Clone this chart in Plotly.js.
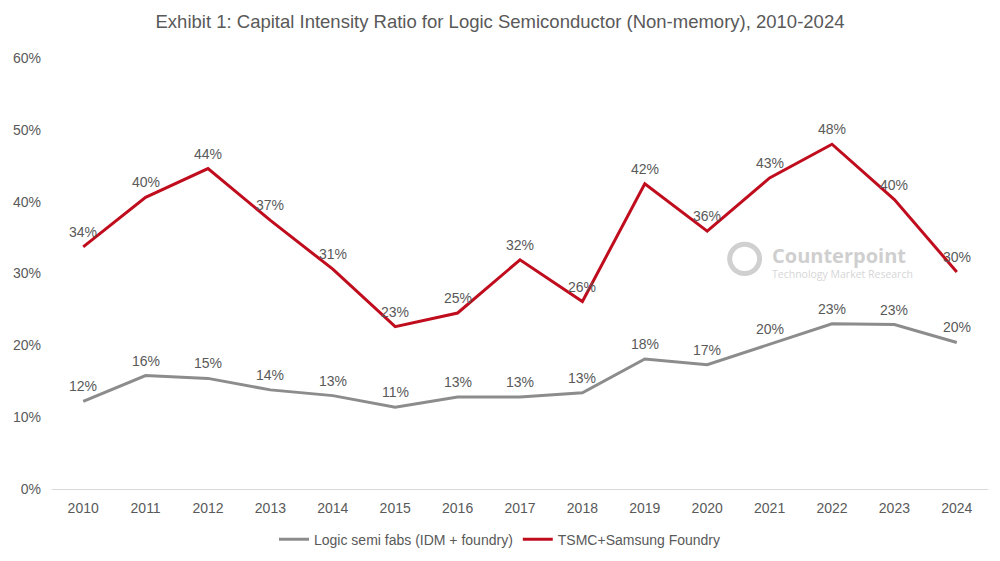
<!DOCTYPE html>
<html><head><meta charset="utf-8">
<script src="https://cdn.plot.ly/plotly-3.0.1.min.js"></script>
<style>body{margin:0;background:#fff}#c{width:1000px;height:561px}</style>
</head><body><div id="c"></div>
<script>
const years = ['2010','2011','2012','2013','2014','2015','2016','2017','2018','2019','2020','2021','2022','2023','2024'];
const logicSemiFabs = [12.2, 15.8, 15.4, 13.8, 13.0, 11.4, 12.8, 12.8, 13.4, 18.1, 17.3, 20.2, 23.0, 22.9, 20.4];
const tsmcSamsung = [33.7, 40.6, 44.6, 37.4, 30.6, 22.6, 24.5, 31.9, 26.1, 42.5, 35.9, 43.3, 48.0, 40.3, 30.2];
const logicLabels = ['12%','16%','15%','14%','13%','11%','13%','13%','13%','18%','17%','20%','23%','23%','20%'];
const tsmcLabels = ['34%','40%','44%','37%','31%','23%','25%','32%','26%','42%','36%','43%','48%','40%','30%'];
const yTicks = [0,10,20,30,40,50,60];

const font = 'Liberation Sans, Arial, sans-serif';
const grey = '#595959';
const traces = [
  {x: years, y: logicSemiFabs, name: 'Logic semi fabs (IDM + foundry)', mode: 'lines',
   line: {color: '#8c8c8c', width: 3}},
  {x: years, y: tsmcSamsung, name: 'TSMC+Samsung Foundry', mode: 'lines',
   line: {color: '#c00d1e', width: 3}}
];
function labelAnns(vals, labels) {
  return vals.map((v, i) => ({x: i, y: v, xref: 'x', yref: 'y', text: labels[i],
    showarrow: false, yshift: 15, xanchor: 'center', yanchor: 'middle',
    font: {family: font, size: 14, color: grey}}));
}
const layout = {
  width: 1000, height: 561,
  margin: {l: 52, r: 12, t: 58, b: 72},
  paper_bgcolor: '#fff', plot_bgcolor: '#fff',
  title: {text: 'Exhibit 1: Capital Intensity Ratio for Logic Semiconductor (Non-memory), 2010-2024',
          x: 0.5, xanchor: 'center', y: 0.962, yanchor: 'middle',
          font: {family: font, size: 18.5, color: grey}},
  xaxis: {type: 'category', range: [-0.5, 14.5], showgrid: false, zeroline: false,
          showline: true, linecolor: '#d9d9d9', linewidth: 1, ticks: '', ticklabelstandoff: 6,
          tickfont: {family: font, size: 14, color: grey}},
  yaxis: {range: [0, 60], tickvals: yTicks, ticktext: yTicks.map(v => v + '%'),
          showgrid: false, zeroline: false, showline: false, ticks: '', ticklabelstandoff: 10,
          tickfont: {family: font, size: 14, color: grey}},
  showlegend: true,
  legend: {orientation: 'h', x: 0.5, xanchor: 'center', xref: 'container', yref: 'container',
           y: 0.038, yanchor: 'middle',
           font: {family: font, size: 14, color: grey},
           itemwidth: 30, tracegroupgap: 0},
  annotations: [
    {xref: 'paper', yref: 'paper', x: 0.767, y: 0.542, xanchor: 'left', yanchor: 'middle',
     text: '<b>Counterpoint</b>', showarrow: false,
     font: {family: 'Open Sans, sans-serif', size: 20, color: '#cfcfcf'}},
    {xref: 'paper', yref: 'paper', x: 0.767, y: 0.499, xanchor: 'left', yanchor: 'middle',
     text: 'Technology Market Research', showarrow: false,
     font: {family: 'Open Sans, sans-serif', size: 10.5, color: '#d6d6d6'}}
  ].concat(labelAnns(logicSemiFabs, logicLabels), labelAnns(tsmcSamsung, tsmcLabels)),
  shapes: [
    {type: 'circle', xref: 'paper', yref: 'paper', x0: 0.724, x1: 0.756, y0: 0.5, y1: 0.568,
     line: {color: '#d0d0d0', width: 5}}
  ]
};
Plotly.newPlot('c', traces, layout, {displayModeBar: false, staticPlot: true});
</script></body></html>
